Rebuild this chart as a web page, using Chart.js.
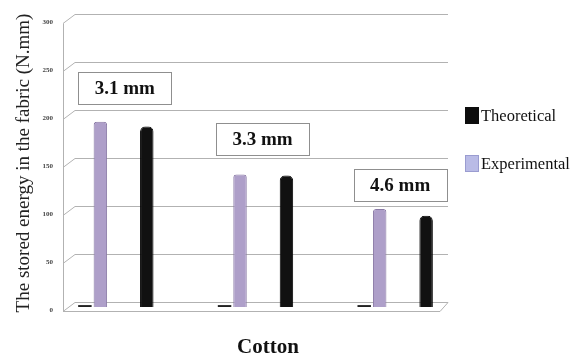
<!DOCTYPE html>
<html>
<head>
<meta charset="utf-8">
<script src="https://cdn.jsdelivr.net/npm/chart.js@4.4.0/dist/chart.umd.min.js"></script>
<style>
  html, body { margin: 0; padding: 0; background: #fff; }
  canvas { display: block; }
</style>
</head>
<body>
<canvas id="chart" width="579" height="362"></canvas>
<script>
// values
const categories = ["3.1 mm", "3.3 mm", "4.6 mm"];
const experimental = [193, 138, 102];
const theoretical = [188, 137, 95];
const baseSeries = [2, 2, 2];          // the tiny dark bars at the foot of each group
const labelLevels = [228, 175, 127];   // height of the boxed group labels
const yTicks = [0, 50, 100, 150, 200, 250, 300];
const seriesNames = ["Theoretical", "Experimental"];
const seriesColors = ["#0d0d0d", "#b9bbe6"];

const serif = "'Liberation Serif', 'Times New Roman', serif";

// 3D-ish back wall + floor and the tick labels, drawn from the y scale
const wallGrid = {
  id: "wallGrid",
  beforeDatasetsDraw(chart) {
    const { ctx, chartArea } = chart;
    const y = chart.scales.y;
    const front = chartArea.left + 17;
    const back = front + 12;
    const right = chartArea.right - 17;
    ctx.save();
    ctx.strokeStyle = "#b2b2b2";
    ctx.lineWidth = 1;
    ctx.beginPath();
    yTicks.forEach(v => {
      const py = Math.round(y.getPixelForValue(v)) + 0.5;
      ctx.moveTo(front, py + 4);
      ctx.lineTo(back, py - 5);
      ctx.lineTo(right, py - 5);
    });
    const top = Math.round(y.getPixelForValue(yTicks[yTicks.length - 1])) + 0.5;
    const zero = Math.round(y.getPixelForValue(0)) + 0.5;
    ctx.moveTo(front + 0.5, top + 4);
    ctx.lineTo(front + 0.5, zero + 4);
    // floor front edge
    ctx.moveTo(front, zero + 4);
    ctx.lineTo(right - 8, zero + 4);
    ctx.lineTo(right, zero - 5);
    ctx.stroke();

    // tick labels, at the front edge
    ctx.fillStyle = "#444";
    ctx.font = "bold 7px " + serif;
    ctx.textAlign = "right";
    ctx.textBaseline = "middle";
    yTicks.forEach(v => {
      ctx.fillText(String(v), front - 10, y.getPixelForValue(v) + 3);
    });
    ctx.restore();
  }
};

// boxed labels over each group, legend and x title
const decorations = {
  id: "decorations",
  afterDraw(chart) {
    const { ctx } = chart;
    const x = chart.scales.x;
    const y = chart.scales.y;
    ctx.save();

    categories.forEach((label, i) => {
      const cx = x.getPixelForValue(i) + 9 - i * 2;
      const cy = y.getPixelForValue(labelLevels[i]);
      const w = 93, h = 32;
      ctx.fillStyle = "#ffffff";
      ctx.strokeStyle = "#8f8f8f";
      ctx.lineWidth = 1;
      ctx.fillRect(Math.round(cx - w / 2), Math.round(cy - h / 2), w, h);
      ctx.strokeRect(Math.round(cx - w / 2) + 0.5, Math.round(cy - h / 2) + 0.5, w, h);
      ctx.fillStyle = "#111";
      ctx.font = "bold 19px " + serif;
      ctx.textAlign = "center";
      ctx.textBaseline = "middle";
      ctx.fillText(label, cx, cy + 1);
    });

    // legend
    const legendY = [116, 164];
    seriesNames.forEach((name, i) => {
      ctx.fillStyle = seriesColors[i];
      ctx.fillRect(465, legendY[i] - 9, 14, 17);
      if (i === 1) {
        ctx.strokeStyle = "#9a9cd0";
        ctx.strokeRect(465.5, legendY[i] - 8.5, 13, 16);
      }
      ctx.fillStyle = "#111";
      ctx.font = "16.5px " + serif;
      ctx.textAlign = "left";
      ctx.textBaseline = "middle";
      ctx.fillText(name, 481, legendY[i] + 1);
    });

    // x title
    ctx.fillStyle = "#111";
    ctx.font = "bold 21px " + serif;
    ctx.textAlign = "center";
    ctx.textBaseline = "middle";
    ctx.fillText("Cotton", 268, 348);

    ctx.restore();
  }
};

new Chart(document.getElementById("chart"), {
  type: "bar",
  data: {
    labels: categories,
    datasets: [
      {
        label: "base",
        data: baseSeries,
        backgroundColor: "#222",
        borderWidth: 0
      },
      {
        label: seriesNames[1],
        data: experimental,
        backgroundColor: "#ae9fc9",
        borderColor: "#8a7aa6",
        borderWidth: 1,
        borderRadius: { topLeft: 3, topRight: 3 },
        borderSkipped: "bottom"
      },
      { label: "gap1", data: [] },
      { label: "gap2", data: [] },
      {
        label: seriesNames[0],
        data: theoretical,
        backgroundColor: "#111",
        borderColor: "#000",
        borderWidth: 1,
        borderRadius: { topLeft: 5, topRight: 5 },
        borderSkipped: "bottom"
      }
    ]
  },
  options: {
    responsive: false,
    animation: false,
    layout: { padding: { left: 0, top: 19, right: 114, bottom: 55 } },
    datasets: {
      bar: { categoryPercentage: 0.554, barPercentage: 0.87 }
    },
    scales: {
      x: {
        display: false
      },
      y: {
        min: 0,
        max: 300,
        afterBuildTicks: s => { s.ticks = yTicks.map(v => ({ value: v })); },
        afterFit: s => { s.width = 46; },
        grid: { display: false, drawTicks: false },
        border: { display: false },
        ticks: { display: false },
        title: {
          display: true,
          text: "The stored energy in the fabric (N.mm)",
          color: "#222",
          font: { family: serif, size: 19 },
          padding: { top: 13, bottom: 0 }
        }
      }
    },
    plugins: {
      legend: { display: false },
      tooltip: { enabled: false }
    }
  },
  plugins: [wallGrid, decorations]
});
</script>
</body>
</html>
